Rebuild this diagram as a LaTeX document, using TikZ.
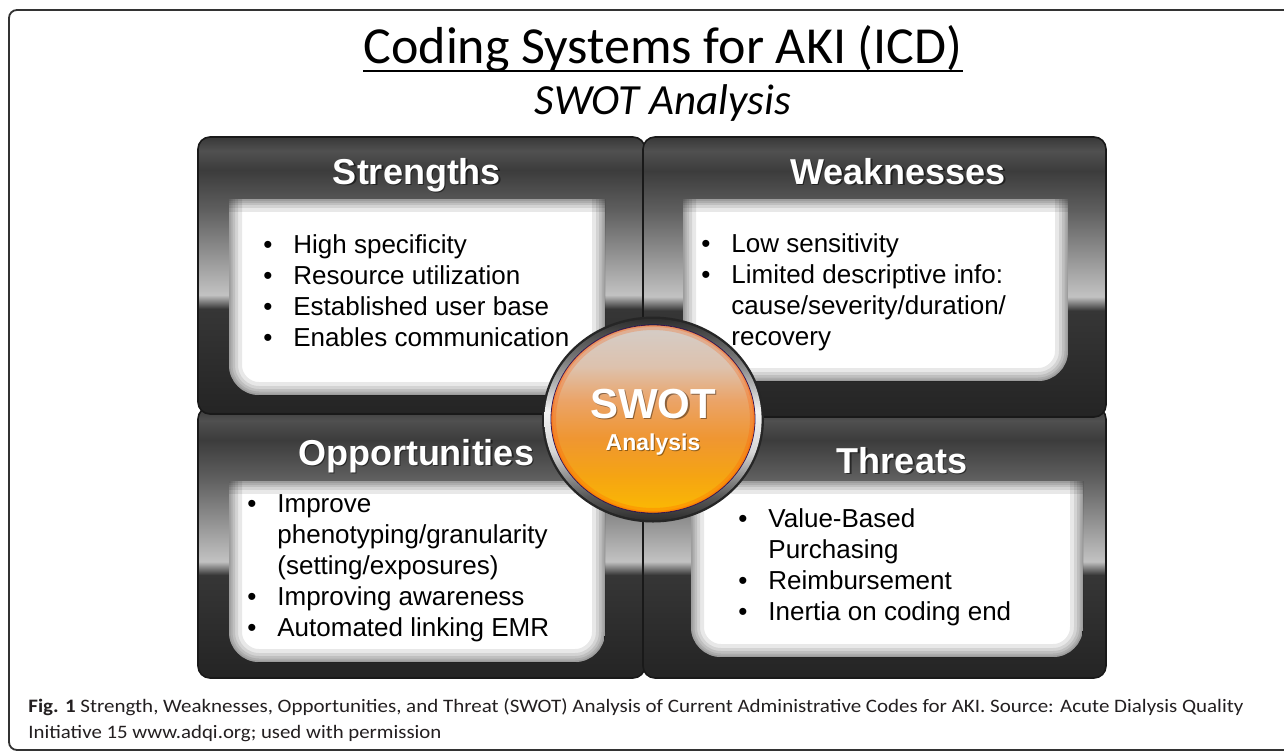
\documentclass[tikz,border=0pt]{standalone}
\usepackage{fontspec}
\usepackage{graphicx}
\setmainfont{Liberation Sans}
\newfontfamily\calfont{Carlito}

\definecolor{bx0}{HTML}{383838}
\definecolor{bxa}{HTML}{505050}
\definecolor{bxb}{HTML}{3C3C3C}
\definecolor{bxc}{HTML}{5E5E5E}
\definecolor{bxd}{HTML}{8A8A8A}
\definecolor{bxe}{HTML}{B5B5B5}
\definecolor{bxf}{HTML}{C2C2C2}
\definecolor{bxg}{HTML}{363636}
\definecolor{bxh}{HTML}{242424}
\definecolor{rga}{HTML}{2E2E2E}
\definecolor{rgb}{HTML}{7A7A7A}
\definecolor{rgc}{HTML}{F4F4F4}
\definecolor{rgd}{HTML}{D6D6D6}
\definecolor{rge}{HTML}{5A5A5A}
\definecolor{ora}{HTML}{D4CDC8}
\definecolor{orb}{HTML}{DDC2AE}
\definecolor{orc}{HTML}{EBA468}
\definecolor{ord}{HTML}{EF9632}
\definecolor{ore}{HTML}{F5A413}
\definecolor{orf}{HTML}{FBBA02}
\definecolor{capgray}{HTML}{231F20}

\pgfdeclareverticalshading{boxshade}{100bp}{color(0bp)=(bxh); color(25bp)=(bxh); color(44bp)=(bxg); color(46.5bp)=(bxf); color(48.5bp)=(bxe); color(55bp)=(bxd); color(62bp)=(bxc); color(69bp)=(bxb); color(72.5bp)=(bxa); color(75bp)=(bx0); color(100bp)=(bx0)}
\pgfdeclareverticalshading{ringshade}{100bp}{color(0bp)=(rga); color(25bp)=(rga); color(31bp)=(rge); color(42bp)=(rgd); color(52bp)=(rgc); color(65bp)=(rgb); color(75bp)=(rga); color(100bp)=(rga)}
\pgfdeclareverticalshading{ballshade}{100bp}{color(0bp)=(orf); color(25bp)=(orf); color(35bp)=(ore); color(45bp)=(ord); color(55bp)=(orc); color(64bp)=(orb); color(75bp)=(ora); color(100bp)=(ora)}

\newcommand{\swotpanel}[4]{%
  \begin{scope}
    \clip (#1,#2) rectangle (#3,#4);
    \path[clip, rounded corners=15pt] (#1,#2-60) rectangle (#3,#4);
    \fill[white] (#1,#2) rectangle (#3,#4);
    \foreach \w in {26,18,12,7,3} {
      \draw[line width=\w*0.5pt, black, opacity=0.09, rounded corners=15pt] (#1,#2-60) rectangle (#3,#4);
      \draw[line width=\w*0.5pt, black, opacity=0.09] (#1,#2) -- (#3,#2);
    }
  \end{scope}}

\begin{document}
\begin{tikzpicture}[x=0.5pt, y=-0.5pt,
    box/.style={draw=black!90, line width=0.8pt, rounded corners=6pt, shading=boxshade},
    head/.style={anchor=base, inner sep=0pt, text=white, font=\fontsize{18}{20}\selectfont\bfseries},
    headsh/.style={head, text=black, opacity=0.5},
    list/.style={anchor=base west, inner sep=0pt, font=\fontsize{13}{15.5}\selectfont},
    ttl/.style={anchor=base, inner sep=0pt, font=\calfont\fontsize{26}{30}\selectfont},
    figcap/.style={anchor=base west, inner sep=0pt, text=capgray, font=\calfont\fontsize{9.5}{11}\selectfont}]
  \useasboundingbox (0,0) rectangle (1284,751);
  \fill[white] (0,0) rectangle (1284,751);
  \draw[black!80, line width=0.9pt, rounded corners=4pt] (1300,10) -- (9,10) -- (9,750) -- (1300,750);

  \node[ttl] (t1) at (663,63) {Coding Systems for AKI (ICD)};
  \draw[line width=1pt] ([yshift=-4pt]t1.base west) -- ([yshift=-4pt]t1.base east);
  \node[ttl, font=\calfont\itshape\fontsize{21.5}{26}\selectfont] (t2) at (663,114) {SWOT Analysis};

  \draw[box] (198,407) rectangle (645,678);
  \draw[box] (643,407) rectangle (1106,678);
  \draw[box] (198,137) rectangle (645,414);
  \draw[box] (643,137) rectangle (1106,417);

  \swotpanel{229}{199}{605}{395}
  \swotpanel{683}{199}{1068}{381}
  \swotpanel{229}{481}{605}{662}
  \swotpanel{691}{481}{1083}{657}

  \node[headsh] (hSs) at (418.5,185.5) {Strengths};
  \node[head] (hS) at (417,184) {Strengths};
  \node[headsh] (hWs) at (899.5,185.5) {Weaknesses};
  \node[head] (hW) at (898,184) {Weaknesses};
  \node[headsh] (hOs) at (417.5,466.5) {Opportunities};
  \node[head] (hO) at (416,465) {Opportunities};
  \node[headsh] (hTs) at (903.5,474.5) {Threats};
  \node[head] (hT) at (902,473) {Threats};

  \node[list] (lS) at (263,253) {\begin{tabular}[t]{@{}p{15pt}@{}l@{}}
    • & High specificity\\
    • & Resource utilization\\
    • & Established user base\\
    • & Enables communication
  \end{tabular}};
  \node[list] (lW) at (701,252) {\begin{tabular}[t]{@{}p{15pt}@{}l@{}}
    • & Low sensitivity\\
    • & Limited descriptive info:\\
      & cause/severity/duration/\\
      & recovery
  \end{tabular}};
  \node[list] (lO) at (247,512) {\begin{tabular}[t]{@{}p{15pt}@{}l@{}}
    • & Improve\\
      & phenotyping/granularity\\
      & (setting/exposures)\\
    • & Improving awareness\\
    • & Automated linking EMR
  \end{tabular}};
  \node[list] (lT) at (738,527) {\begin{tabular}[t]{@{}p{15pt}@{}l@{}}
    • & Value-Based\\
      & Purchasing\\
    • & Reimbursement\\
    • & Inertia on coding end
  \end{tabular}};

  \fill[black!85] (653,419.5) ellipse [x radius=55.5pt, y radius=51.5pt];
  \shade[shading=ringshade] (653,419.5) ellipse [x radius=54.3pt, y radius=50.3pt];
  \shade[shading=ballshade, draw=blue!40!black, line width=0.4pt] (653,419) ellipse [x radius=51pt, y radius=47pt];
  \begin{scope}
    \clip (653,419) ellipse [x radius=51pt, y radius=47pt];
    \draw[line width=5pt, orange!70!red, opacity=0.25] (653,419) ellipse [x radius=51pt, y radius=47pt];
    \draw[line width=2pt, orange!70!red, opacity=0.3] (653,419) ellipse [x radius=51pt, y radius=47pt];
  \end{scope}
  \node[head, text=black, opacity=0.4, font=\fontsize{21}{24}\selectfont\bfseries] (sws) at (654.5,419.5) {SWOT};
  \node[head, font=\fontsize{21}{24}\selectfont\bfseries] (sw) at (653,418) {SWOT};
  \node[head, text=black, opacity=0.4, font=\fontsize{11.5}{13}\selectfont\bfseries] (ans) at (654,451) {Analysis};
  \node[head, font=\fontsize{11.5}{13}\selectfont\bfseries] (an) at (653,450) {Analysis};

  \node[figcap] (c1) at (28,712) {\resizebox{607.5pt}{\height}{\textbf{Fig. 1} Strength, Weaknesses, Opportunities, and Threat (SWOT) Analysis of Current Administrative Codes for AKI. Source: Acute Dialysis Quality}};
  \node[figcap] (c2) at (28,738) {\resizebox{206.5pt}{\height}{Initiative 15 www.adqi.org; used with permission}};
\end{tikzpicture}
\end{document}
